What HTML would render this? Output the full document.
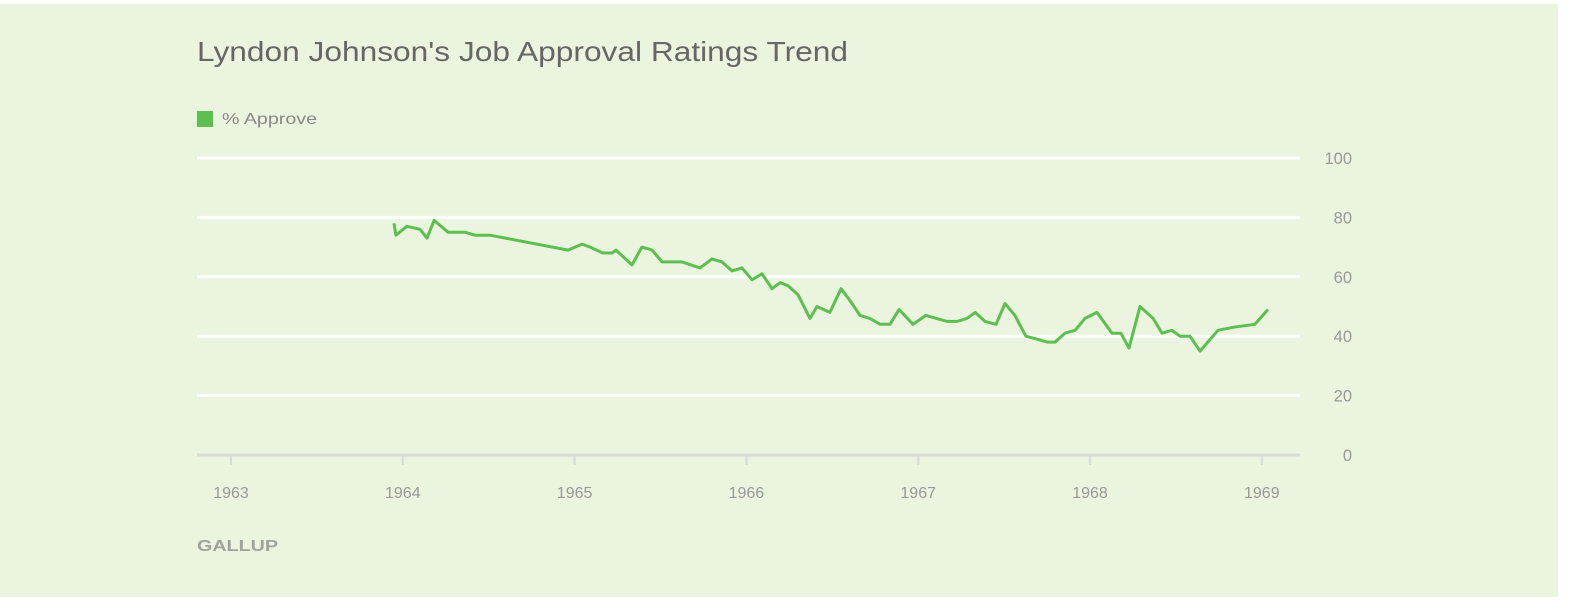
<!DOCTYPE html>
<html><head><meta charset="utf-8"><style>
html,body{margin:0;padding:0;background:#fff;}
body{width:1572px;height:606px;position:relative;overflow:hidden;font-family:"Liberation Sans",sans-serif;}
#panel{position:absolute;left:0;top:4px;width:1558px;height:593px;background:#ebf4de;}
</style></head><body>
<div id="panel"></div>
<svg id="chart" width="1572" height="606" style="position:absolute;left:0;top:0">
<text x="197" y="61" font-size="28" fill="#666" textLength="651" lengthAdjust="spacingAndGlyphs">Lyndon Johnson's Job Approval Ratings Trend</text>
<rect x="197" y="111" width="16" height="16" fill="#5cbf4f"/>
<text x="222" y="124" font-size="16" fill="#888" textLength="95" lengthAdjust="spacingAndGlyphs">% Approve</text>
<text x="197" y="551" font-size="16" font-weight="bold" fill="#a0a39a" textLength="81" lengthAdjust="spacingAndGlyphs">GALLUP</text>
<g id="grid"></g><g id="xaxis"></g><g id="series"></g>
</svg>
<script>
const yTicks=[0,20,40,60,80,100];
const xTicks=[1963,1964,1965,1966,1967,1968,1969];
const dates=[1963.949,1963.960,1964.024,1964.100,1964.141,1964.182,1964.263,1964.362,1964.420,1964.508,1964.962,1965.043,1965.090,1965.165,1965.218,1965.241,1965.334,1965.392,1965.451,1965.509,1965.625,1965.730,1965.800,1965.858,1965.916,1965.974,1966.033,1966.091,1966.149,1966.196,1966.242,1966.300,1966.370,1966.411,1966.486,1966.551,1966.603,1966.661,1966.719,1966.778,1966.836,1966.888,1966.970,1967.045,1967.168,1967.226,1967.284,1967.331,1967.389,1967.453,1967.505,1967.563,1967.627,1967.692,1967.750,1967.796,1967.854,1967.913,1967.971,1968.041,1968.128,1968.180,1968.227,1968.291,1968.367,1968.419,1968.477,1968.524,1968.582,1968.640,1968.745,1968.832,1968.960,1969.036];
const approve=[78,74,77,76,73,79,75,75,74,74,69,71,70,68,68,69,64,70,69,65,65,63,66,65,62,63,59,61,56,58,57,54,46,50,48,56,52,47,46,44,44,49,44,47,45,45,46,48,45,44,51,47,40,39,38,38,41,42,46,48,41,41,36,50,46,41,42,40,40,35,42,43,44,49];
const NS='http://www.w3.org/2000/svg';
const X=y=>231+(y-1963)*171.8;
const Y=v=>455-v*2.97;
const grid=document.getElementById('grid'),xa=document.getElementById('xaxis'),ser=document.getElementById('series');
function mk(tag,attrs,parent){const e=document.createElementNS(NS,tag);for(const k in attrs)e.setAttribute(k,attrs[k]);parent.appendChild(e);return e;}
yTicks.forEach(t=>{
  if(t>0){const l=mk('line',{x1:197,x2:1300,y1:Y(t),y2:Y(t),stroke:'#fff','stroke-width':3},grid);
  
  }
  const tx=mk('text',{x:1352,y:Y(t)+6,'font-size':16.5,fill:'#999','text-anchor':'end'},grid);
  tx.textContent=t;
  
  
});
const ax=mk('line',{x1:197,x2:1300,y1:Y(0),y2:Y(0),stroke:'#d8dbd6','stroke-width':3},xa);


xTicks.forEach(t=>{
  const tk=mk('line',{x1:X(t),x2:X(t),y1:Y(0),y2:Y(0)+10,stroke:'#d8dbd6','stroke-width':2},xa);
  
  
  const tx=mk('text',{x:X(t),y:498,'font-size':16,fill:'#999','text-anchor':'middle'},xa);
  tx.textContent=t;
  
  
});
const pts=dates.map((d,i)=>X(d).toFixed(1)+','+Y(approve[i]).toFixed(1)).join(' ');
const pl=mk('polyline',{points:pts,fill:'none',stroke:'#5cbf4f','stroke-width':3,'stroke-linejoin':'round'},ser);


</script>
</body></html>
